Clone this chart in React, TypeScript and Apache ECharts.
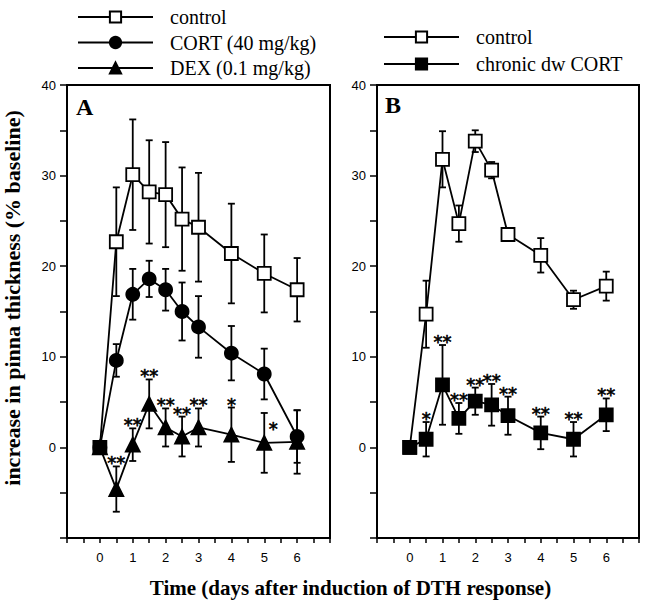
import React, { useEffect, useRef } from 'react';
import * as echarts from 'echarts';

// ---- data ----
const days = [0, 0.5, 1, 1.5, 2, 2.5, 3, 4, 5, 6];

// Panel A
const controlA = [0, 22.7, 30.1, 28.2, 27.9, 25.2, 24.3, 21.4, 19.2, 17.4];
const controlAErr = [0, 6.0, 6.1, 5.7, 5.8, 5.7, 6.0, 5.5, 4.3, 3.5];
const cortA = [0, 9.6, 16.9, 18.6, 17.4, 15.0, 13.3, 10.4, 8.1, 1.2];
const cortAErr = [0, 1.8, 2.8, 2.0, 2.3, 3.2, 3.4, 3.0, 2.8, 2.9];
const dexA = [0, -4.6, 0.3, 4.8, 2.2, 1.2, 2.2, 1.4, 0.5, 0.6];
const dexAErr = [0, 2.5, 1.8, 2.7, 2.1, 2.2, 2.1, 3.0, 3.3, 3.5];
const starsA: [number, string][] = [
  [0.5, '**'], [1, '**'], [1.5, '**'], [2, '**'], [2.5, '**'], [3, '**'], [4, '*'], [5, '*'],
];

// Panel B
const controlB = [0, 14.7, 31.8, 24.7, 33.8, 30.6, 23.5, 21.2, 16.3, 17.8];
const controlBErr = [0, 3.7, 3.1, 2.0, 1.2, 0.9, 0.3, 1.9, 1.0, 1.6];
const chronicB = [0, 0.9, 6.9, 3.2, 5.1, 4.7, 3.5, 1.6, 0.9, 3.6];
const chronicBErr = [0, 1.9, 4.4, 1.7, 1.5, 2.3, 2.1, 1.8, 1.9, 1.8];
const starsB: [number, string][] = [
  [0.5, '*'], [1, '**'], [1.5, '**'], [2, '**'], [2.5, '**'], [3, '**'], [4, '**'], [5, '**'], [6, '**'],
];

const xTickLabels = ['0', '1', '2', '3', '4', '5', '6'];
const yTickLabels = ['0', '10', '20', '30', '40'];

const legendA = ['control', 'CORT (40 mg/kg)', 'DEX (0.1 mg/kg)'];
const legendB = ['control', 'chronic dw CORT'];

const xTitle = 'Time (days after induction of DTH response)';
const yTitle = 'increase in pinna thickness (% baseline)';

// ---- helpers ----
const LW = 1.8;

function errorSeries(idx: number, means: number[], errs: number[]) {
  return {
    type: 'custom',
    xAxisIndex: idx,
    yAxisIndex: idx,
    z: 1,
    silent: true,
    clip: false,
    itemStyle: { color: '#000' },
    encode: { x: 0, y: [1, 2] },
    data: days.map((d, i) => [d, means[i] - errs[i], means[i] + errs[i]]),
    renderItem: (params: any, api: any) => {
      const x = api.value(0);
      const lo = api.value(1);
      const hi = api.value(2);
      if (hi - lo < 0.05) return null;
      const top = api.coord([x, hi]);
      const bot = api.coord([x, lo]);
      const w = 3.5;
      const st = { stroke: '#000', lineWidth: LW };
      return {
        type: 'group',
        children: [
          { type: 'line', shape: { x1: top[0], y1: top[1], x2: bot[0], y2: bot[1] }, style: st },
          { type: 'line', shape: { x1: top[0] - w, y1: top[1], x2: top[0] + w, y2: top[1] }, style: st },
          { type: 'line', shape: { x1: bot[0] - w, y1: bot[1], x2: bot[0] + w, y2: bot[1] }, style: st },
        ],
      };
    },
  };
}

function starSeries(idx: number, stars: [number, string][], means: number[], errs: number[], special: (d: number) => [number, number]) {
  return {
    type: 'custom',
    xAxisIndex: idx,
    yAxisIndex: idx,
    z: 6,
    silent: true,
    clip: false,
    itemStyle: { color: '#000' },
    encode: { x: 0, y: 1 },
    data: stars.map(([d]) => {
      const i = days.indexOf(d);
      return [d, means[i] + errs[i]];
    }),
    renderItem: (params: any, api: any) => {
      const p = api.coord([api.value(0), api.value(1)]);
      const [d, text] = stars[params.dataIndex];
      const [dx, dy] = special(d);
      return {
        type: 'text',
        x: p[0] + dx,
        y: p[1] - 3.5 + dy,
        style: {
          text,
          fill: '#000',
          stroke: '#000',
          lineWidth: 0.6,
          fontFamily: 'DejaVu Sans',
          fontSize: 18,
          align: 'center',
          verticalAlign: 'middle',
        },
      };
    },
  };
}

function lineSeries(idx: number, name: string, means: number[], symbol: string, size: number, fill: string, firstBlack = false) {
  return {
    type: 'line',
    name,
    xAxisIndex: idx,
    yAxisIndex: idx,
    z: 3,
    symbol,
    symbolSize: size,
    showAllSymbol: true,
    emphasis: { disabled: true },
    lineStyle: { color: '#000', width: LW },
    itemStyle: { color: fill, borderColor: '#000', borderWidth: LW, opacity: 1 },
    data: days.map((d, i) =>
      firstBlack && i === 0 ? { value: [d, means[i]], itemStyle: { color: '#000' } } : [d, means[i]]
    ),
  };
}

function xAxisDef(idx: number) {
  return {
    type: 'value',
    gridIndex: idx,
    min: -1,
    max: 7,
    interval: 0.5,
    axisLine: { show: true, onZero: false, lineStyle: { color: '#000', width: 2 } },
    axisTick: { show: true, length: 5, lineStyle: { color: '#000', width: 1.5 } },
    splitLine: { show: false },
    axisLabel: {
      margin: 13,
      color: '#000',
      fontFamily: 'Liberation Sans',
      fontSize: 13,
      formatter: (v: number) => (xTickLabels.includes(String(v)) ? String(v) : ''),
    },
  };
}

function yAxisDef(idx: number) {
  return {
    type: 'value',
    gridIndex: idx,
    min: -10,
    max: 40,
    interval: 5,
    axisLine: { show: true, onZero: false, lineStyle: { color: '#000', width: 2 } },
    axisTick: { show: true, length: 7, lineStyle: { color: '#000', width: 1.5 } },
    splitLine: { show: false },
    axisLabel: {
      margin: 11,
      color: '#000',
      fontFamily: 'Liberation Sans',
      fontSize: 13,
      formatter: (v: number) => (yTickLabels.includes(String(v)) ? String(v) : ''),
    },
  };
}

const legendCommon = {
  orient: 'vertical',
  itemWidth: 75,
  itemHeight: 14,
  selectedMode: false,
  textStyle: { fontFamily: 'Liberation Serif', fontSize: 20, color: '#000', padding: [0, 0, 0, 12] },
};

export default function App() {
  const ref = useRef<HTMLDivElement>(null);
  useEffect(() => {
    if (!ref.current) return;
    const chart = echarts.init(ref.current, undefined, { renderer: 'svg' });
    const option: any = {
      animation: false,
      backgroundColor: '#fff',
      grid: [
        { left: 67, top: 85, width: 263, height: 453, show: true, borderColor: '#000', borderWidth: 2 },
        { left: 377, top: 85, width: 262, height: 453, show: true, borderColor: '#000', borderWidth: 2 },
      ],
      xAxis: [xAxisDef(0), xAxisDef(1)],
      yAxis: [yAxisDef(0), yAxisDef(1)],
      legend: [
        { ...legendCommon, data: legendA, left: 72, top: 2, itemGap: 5.5 },
        { ...legendCommon, data: legendB, left: 378, top: 22, itemGap: 7 },
      ],
      graphic: [
        {
          type: 'text', x: 76, y: 106.5,
          style: { text: 'A', font: 'bold 24px "Liberation Serif"', fill: '#000', align: 'left', verticalAlign: 'middle' },
        },
        {
          type: 'text', x: 385, y: 105,
          style: { text: 'B', font: 'bold 24px "Liberation Serif"', fill: '#000', align: 'left', verticalAlign: 'middle' },
        },
        {
          type: 'text', x: 350.5, y: 587.5,
          style: { text: xTitle, font: 'bold 21px "Liberation Serif"', fill: '#000', align: 'center', verticalAlign: 'middle' },
        },
        {
          type: 'text', x: 12, y: 298, rotation: Math.PI / 2,
          style: { text: yTitle, font: 'bold 22px "Liberation Serif"', fill: '#000', align: 'center', verticalAlign: 'middle' },
        },
      ],
      series: [
        errorSeries(0, dexA, dexAErr),
        errorSeries(0, cortA, cortAErr),
        errorSeries(0, controlA, controlAErr),
        lineSeries(0, 'DEX (0.1 mg/kg)', dexA, 'triangle', 14, '#000'),
        lineSeries(0, 'CORT (40 mg/kg)', cortA, 'circle', 13, '#000'),
        lineSeries(0, 'control', controlA, 'rect', 13, '#fff', true),
        starSeries(0, starsA, dexA, dexAErr, (d) => (d === 5 ? [9, 19] : [0, 0])),
        errorSeries(1, controlB, controlBErr),
        errorSeries(1, chronicB, chronicBErr),
        lineSeries(1, 'control', controlB, 'rect', 13, '#fff'),
        lineSeries(1, 'chronic dw CORT', chronicB, 'rect', 13, '#000'),
        starSeries(1, starsB, chronicB, chronicBErr, () => [0, 0]),
      ],
    };
    chart.setOption(option);
    return () => chart.dispose();
  }, []);
  return <div ref={ref} style={{ position: 'absolute', left: 0, top: 0, width: 650, height: 605 }} />;
}
